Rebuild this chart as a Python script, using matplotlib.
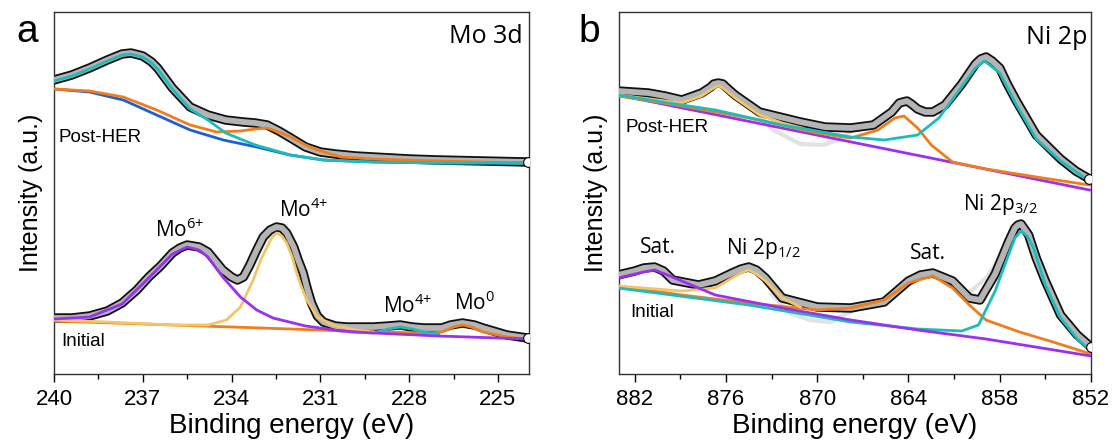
import numpy as np
import matplotlib.pyplot as plt

plt.rcParams['font.family'] = ['Liberation Sans', 'DejaVu Sans']
plt.rcParams['mathtext.fontset'] = 'custom'
plt.rcParams['mathtext.rm'] = 'Open Sans'
plt.rcParams['mathtext.it'] = 'Open Sans:italic'

# ---- Mo 3d, Post-HER (binding energy, intensity) ----
mo_post_E = [240.0, 239.4, 238.8, 238.2, 237.7, 237.4, 237.0, 236.7, 236.5, 236.0, 235.4, 234.8, 234.2,
             233.6, 233.2, 232.8, 232.4, 232.0, 231.5, 231.0, 230.5, 229.8, 229.2, 228.0, 227.0,
             225.5, 224.0]
mo_post_env = [294, 299, 306, 314, 320, 321, 318, 312, 306, 286, 267, 259, 254,
               252, 251, 249, 243, 236, 227, 222, 220, 218, 217, 215, 214,
               213, 212]
mo_post_mo6_E = [240.0, 239.4, 238.8, 238.2, 237.7, 237.4, 237.0, 236.7, 236.5, 236.0, 235.4, 234.8,
                 234.2, 233.2, 232.0, 230.9, 229.2, 227.0, 224.0]
mo_post_mo6 = [293, 298, 305, 313, 319, 320, 317, 311, 305, 285, 265, 254,
               241, 229, 219, 214, 212, 211, 211]
mo_post_mo4_E = [240.0, 238.8, 237.66, 236.53, 235.4, 234.5, 233.7, 233.2, 232.8, 232.4, 232.0,
                 231.5, 231.1, 230.3, 229.2, 227.0, 224.0]
mo_post_mo4 = [285, 283, 277, 264, 249, 242, 243, 245, 246, 242, 237, 229, 224, 217, 215, 213, 211]
mo_post_bg_E = [240.0, 238.8, 237.66, 236.53, 235.4, 234.28, 233.15, 232.03, 230.9, 229.2, 227.0, 224.0]
mo_post_bg = [285, 282, 274, 259, 244, 234, 227, 219, 214, 212, 211, 211]

# ---- Mo 3d, Initial ----
mo_init_E = [240.0, 239.4, 238.8, 238.2, 237.7, 237.2, 236.8, 236.4, 236.0, 235.75, 235.5, 235.1,
             234.8, 234.3, 234.0, 233.8, 233.6, 233.4, 233.15, 232.93, 232.7, 232.48, 232.3, 232.14,
             231.9, 231.75, 231.58, 231.45, 231.3, 231.1, 230.9, 230.5, 230.1, 229.2, 228.7, 228.3,
             227.9, 227.5, 226.9, 226.6, 226.2, 225.8, 225.5, 224.7, 224.0]
mo_init_env = [56, 56, 58, 63, 71, 84, 97, 108, 121, 126, 129, 127,
               122, 104, 97, 94, 97, 108, 124, 137, 144, 147, 146, 141,
               127, 114, 101, 86, 71, 58, 52, 48, 47, 47, 48, 49,
               47, 46, 46, 49, 51, 49, 46, 39, 36]
mo_init_mo6_E = [240.0, 238.8, 237.7, 236.8, 236.0, 235.5, 235.1, 234.8, 234.3, 233.7, 233.15, 232.6,
                 231.5, 230.3, 229.2, 227.0, 224.0]
mo_init_mo6 = [55, 57, 70, 96, 120, 127, 124, 117, 97, 77, 64, 56, 48, 43, 41, 38, 35]
mo_init_mo4_E = [240.0, 238.2, 235.97, 234.8, 234.17, 233.7, 233.27, 233.0, 232.8, 232.65, 232.48,
                 232.3, 232.14, 231.95, 231.8, 231.65, 231.46, 231.1, 230.6, 229.8, 229.2]
mo_init_mo4 = [54, 52, 49, 49, 54, 67, 94, 115, 127, 136, 141, 138, 131, 117, 101, 88, 74, 57, 49, 44, 42]
mo_init_mo0_E = [240.0, 236.0, 232.0, 229.2, 227.3, 226.9, 226.5, 226.2, 225.9, 225.5, 224.7, 224.0]
mo_init_mo0 = [53, 49, 45, 42, 41, 42, 47, 49, 47, 42, 37, 35]
mo_init_mo4b_E = [230.0, 229.2, 228.7, 228.3, 227.9, 227.5, 227.0]
mo_init_mo4b = [42, 41, 45, 47, 45, 42, 40]

# ---- Ni 2p, Post-HER ----
ni_post_E = [883.1, 881.1, 880.0, 878.9, 877.6, 877.0, 876.8, 876.5, 876.2, 876.0, 875.4, 873.8,
             871.1, 869.5, 867.8, 866.3, 865.1, 864.6, 864.1, 863.8, 863.4, 862.9, 862.4, 861.6,
             860.5, 859.6, 859.25, 858.9, 858.5, 858.0, 857.5, 856.9, 855.6, 854.0, 853.0, 852.1]
ni_post_env = [283, 281, 278, 274, 281, 287, 290, 291, 290, 287, 279, 262,
               252, 247, 246, 249, 262, 271, 273, 270, 265, 262, 262, 269,
               290, 310, 315, 317, 313, 306, 290, 273, 239, 215, 203, 195]
ni_post_raw_E = [873.8, 872.9, 871.1, 869.6, 868.5, 867.6]
ni_post_raw = [258, 244, 230, 229, 235, 244]
ni_post_bg_E = [883.1, 852.1]
ni_post_bg = [279, 184]
ni_post_sat_E = [883.1, 878.9, 874.5, 870.0, 867.8, 866.0, 864.9, 864.3, 863.4, 862.5, 861.1,
                 858.9, 855.6, 852.1]
ni_post_sat = [278, 268, 256, 241, 236, 244, 256, 258, 246, 229, 212, 205, 197, 189]
ni_post_p12_E = [883.1, 878.9, 877.6, 876.8, 876.5, 876.2, 875.4, 873.8, 872.3, 871.0]
ni_post_p12 = [279, 271, 278, 286, 288, 286, 276, 259, 251, 246]
ni_post_p32_E = [883.1, 878.9, 876.7, 872.3, 867.8, 865.6, 863.4, 862.0, 860.7, 859.6, 859.0, 858.0,
                 856.9, 855.6, 854.0, 852.1]
ni_post_p32 = [279, 269, 264, 249, 237, 234, 239, 256, 283, 306, 313, 301, 269, 235, 213, 193]

# ---- Ni 2p, Initial ----
ni_init_E = [883.1, 882.0, 881.4, 880.7, 880.1, 879.5, 877.8, 876.7, 875.6, 875.0, 874.5, 874.0,
             873.4, 872.3, 870.0, 867.8, 865.6, 864.0, 863.2, 862.4, 861.1, 860.0, 859.3, 858.3,
             857.4, 857.0, 856.8, 856.6, 856.1, 855.6, 855.0, 854.0, 852.9, 852.0]
ni_init_env = [99, 103, 106, 107, 103, 94, 89, 93, 101, 105, 107, 104,
               96, 76, 67, 66, 72, 93, 99, 101, 93, 76, 74, 100,
               133, 146, 149, 150, 139, 116, 93, 59, 39, 27]
ni_init_raw_E = [873.0, 871.8, 870.5, 869.1, 868.3, 867.5]
ni_init_raw = [80, 61, 54, 52, 59, 64]
ni_init_raw2_E = [860.3, 859.8, 858.9, 858.0]
ni_init_raw2 = [80, 84, 96, 116]
ni_init_sat1_E = [883.1, 881.4, 880.7, 880.0, 878.9, 876.7, 872.3, 867.8, 863.4, 858.9, 852.0]
ni_init_sat1 = [96, 102, 104, 100, 93, 79, 66, 54, 44, 35, 18]
ni_init_sat2_E = [883.1, 878.9, 874.5, 870.0, 867.8, 865.6, 864.0, 862.4, 861.1, 860.0, 858.9,
                  856.7, 854.5, 852.0]
ni_init_sat2 = [88, 79, 71, 64, 66, 74, 91, 98, 86, 69, 54, 42, 32, 20]
ni_init_p12_E = [883.1, 878.9, 876.7, 875.6, 875.0, 874.5, 874.0, 873.4, 872.3, 871.1]
ni_init_p12 = [88, 83, 86, 96, 101, 104, 100, 93, 76, 67]
ni_init_p32_E = [883.1, 874.5, 867.8, 863.4, 860.5, 859.4, 858.3, 857.4, 857.0, 856.6, 856.2, 855.8,
                 855.0, 854.0, 852.9, 852.0]
ni_init_p32 = [86, 69, 52, 45, 43, 49, 83, 120, 136, 143, 138, 127, 89, 56, 35, 23]

PURPLE = '#9b30f0'
CYAN = '#1cbcbc'
ORANGE = '#f07d1c'
YELLOW = '#f3c468'
BLUE = '#1f5fd6'


def draw_band(ax, E, y):
    # overlapping open circles look like a thick grey band with a black rim
    ax.plot(E, y, color='#111111', lw=6.8, solid_capstyle='round', solid_joinstyle='round', zorder=2)
    ax.plot(E, y, color='#b4b4b4', lw=4.2, solid_capstyle='round', solid_joinstyle='round', zorder=3)
    ax.plot(E[-1], y[-1], 'o', mfc='white', mec='black', ms=7, mew=0.8, zorder=6)


def raw(ax, E, y):
    ax.plot(E, y, color='#e2e2e2', lw=3, solid_joinstyle='round', zorder=1)


def comp(ax, E, y, c):
    ax.plot(E, y, color=c, lw=2, solid_joinstyle='round', zorder=4)


def style(ax, xlim, ticks, minor):
    ax.set_xlim(*xlim)
    ax.set_ylim(0, 362)
    ax.set_xticks(ticks)
    ax.set_xticks(minor, minor=True)
    ax.set_yticks([])
    ax.tick_params(axis='x', which='major', direction='out', length=6, width=1, labelsize=16, pad=5)
    ax.tick_params(axis='x', which='minor', direction='out', length=3.5, width=1)
    for s in ax.spines.values():
        s.set_color('#333333')
        s.set_linewidth(1)
    ax.set_xlabel('Binding energy (eV)', fontsize=20, labelpad=2)
    ax.set_ylabel('Intensity (a.u.)', fontsize=18, labelpad=8)


fig = plt.figure(figsize=(11.18, 4.45), dpi=100)
ax1 = fig.add_axes([54 / 1118, 71 / 445, 475 / 1118, 362 / 445])
ax2 = fig.add_axes([619 / 1118, 71 / 445, 472 / 1118, 362 / 445])

lab = dict(fontfamily='Open Sans', fontsize=15)

# panel a
draw_band(ax1, mo_post_E, mo_post_env)
comp(ax1, mo_post_bg_E, mo_post_bg, BLUE)
comp(ax1, mo_post_mo4_E, mo_post_mo4, ORANGE)
comp(ax1, mo_post_mo6_E, mo_post_mo6, CYAN)
draw_band(ax1, mo_init_E, mo_init_env)
comp(ax1, mo_init_mo0_E, mo_init_mo0, ORANGE)
comp(ax1, mo_init_mo4b_E, mo_init_mo4b, CYAN)
comp(ax1, mo_init_mo4_E, mo_init_mo4, YELLOW)
comp(ax1, mo_init_mo6_E, mo_init_mo6, PURPLE)
style(ax1, (240, 223.95), [240, 237, 234, 231, 228, 225], np.arange(238.5, 224, -3))
ax1.text(224.17, 331, 'Mo 3d', ha='right', va='baseline', fontfamily='Open Sans', fontsize=18)
ax1.text(236.6, 137, r'Mo$^{\text{6+}}$', ha='left', va='baseline', **lab)
ax1.text(232.4, 157, r'Mo$^{\text{4+}}$', ha='left', va='baseline', **lab)
ax1.text(228.9, 61, r'Mo$^{\text{4+}}$', ha='left', va='baseline', **lab)
ax1.text(226.5, 64, r'Mo$^{\text{0}}$', ha='left', va='baseline', **lab)
ax1.text(239.85, 232, 'Post-HER', ha='left', va='baseline', fontsize=13.5)
ax1.text(239.74, 28, 'Initial', ha='left', va='baseline', fontsize=13.5)

# panel b
raw(ax2, ni_post_raw_E, ni_post_raw)
raw(ax2, ni_init_raw_E, ni_init_raw)
raw(ax2, ni_init_raw2_E, ni_init_raw2)
draw_band(ax2, ni_post_E, ni_post_env)
comp(ax2, ni_post_bg_E, ni_post_bg, PURPLE)
comp(ax2, ni_post_sat_E, ni_post_sat, ORANGE)
comp(ax2, ni_post_p12_E, ni_post_p12, YELLOW)
comp(ax2, ni_post_p32_E, ni_post_p32, CYAN)
draw_band(ax2, ni_init_E, ni_init_env)
comp(ax2, ni_init_sat2_E, ni_init_sat2, ORANGE)
comp(ax2, ni_init_p12_E, ni_init_p12, YELLOW)
comp(ax2, ni_init_p32_E, ni_init_p32, CYAN)
comp(ax2, ni_init_sat1_E, ni_init_sat1, PURPLE)
style(ax2, (883.03, 852.0), [882, 876, 870, 864, 858, 852], np.arange(879, 852, -6))
ax2.text(852.26, 330, 'Ni 2p', ha='right', va='baseline', fontfamily='Open Sans', fontsize=18)
ax2.text(881.63, 121, 'Sat.', ha='left', va='baseline', **lab)
ax2.text(876.0, 120, r'Ni 2p$_{\text{1/2}}$', ha='left', va='baseline', **lab)
ax2.text(863.9, 115, 'Sat.', ha='left', va='baseline', **lab)
ax2.text(860.4, 164, r'Ni 2p$_{\text{3/2}}$', ha='left', va='baseline', **lab)
ax2.text(882.59, 242, 'Post-HER', ha='left', va='baseline', fontsize=13.5)
ax2.text(882.3, 57, 'Initial', ha='left', va='baseline', fontsize=13.5)

fig.text(27 / 1118, 1 - 42 / 445, 'a', fontsize=28, ha='center', va='baseline')
fig.text(589 / 1118, 1 - 42 / 445, 'b', fontsize=28, ha='center', va='baseline')

fig.savefig('out.png', dpi=100)
